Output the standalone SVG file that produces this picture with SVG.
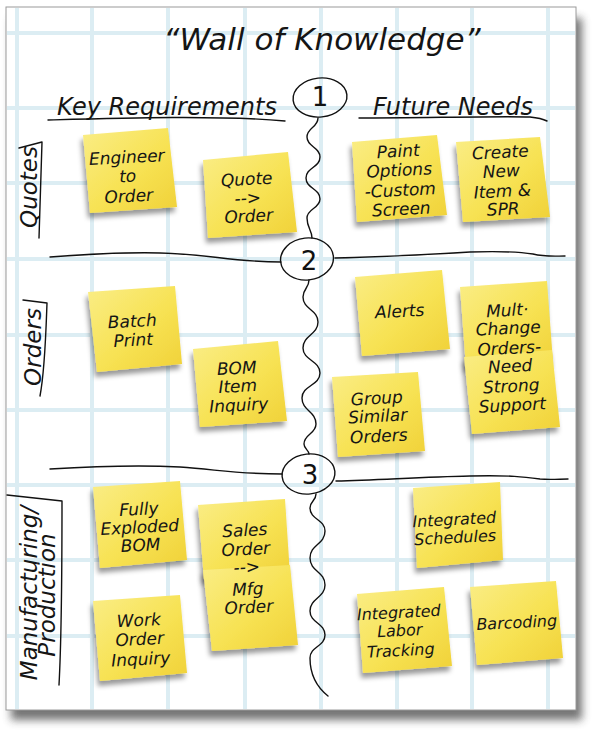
<svg xmlns="http://www.w3.org/2000/svg" width="600" height="732" viewBox="0 0 600 732">
<defs>
<style>
.t{font-family:"DejaVu Sans","Liberation Sans",sans-serif;font-style:italic;fill:#151515}
.n text{font-size:17px;text-anchor:middle}
.n text.s{font-size:16px}
.ink{fill:none;stroke:#111;stroke-width:1.4;stroke-linecap:round;stroke-linejoin:round}
.grid line{stroke:#dcedf3;stroke-width:4}
.note{fill:url(#yg);filter:url(#ns)}
.dig{font-family:"DejaVu Sans","Liberation Sans",sans-serif;font-size:26px;text-anchor:middle;fill:#111}
.hd{font-size:24px;text-anchor:middle}
.side{font-size:23px;text-anchor:middle}
</style>
<linearGradient id="yg" x1="0" y1="0" x2="1" y2="1">
<stop offset="0" stop-color="#faed86"/>
<stop offset="0.55" stop-color="#f7e253"/>
<stop offset="1" stop-color="#f0d138"/>
</linearGradient>
<filter id="ns" x="-20%" y="-20%" width="140%" height="150%">
<feDropShadow dx="-2" dy="5" stdDeviation="2.5" flood-color="#000" flood-opacity="0.4"/>
</filter>
<filter id="bs" x="-5%" y="-5%" width="110%" height="110%">
<feGaussianBlur stdDeviation="4"/>
</filter>
</defs>
<rect width="600" height="732" fill="#fff"/>
<g id="board">
<rect x="11" y="18" width="571" height="702" fill="#3a3a3a" opacity="0.7" filter="url(#bs)"/>
<rect x="6" y="7" width="570" height="703" fill="#fff" stroke="#9a9a9a" stroke-width="1"/>
<g class="grid">
<line x1="17" y1="8" x2="17" y2="709"/><line x1="92" y1="8" x2="92" y2="709"/><line x1="168" y1="8" x2="168" y2="709"/><line x1="245" y1="8" x2="245" y2="709"/><line x1="321" y1="8" x2="321" y2="709"/><line x1="397" y1="8" x2="397" y2="709"/><line x1="472" y1="8" x2="472" y2="709"/><line x1="548" y1="8" x2="548" y2="709"/>
<line x1="7" y1="33" x2="575" y2="33"/><line x1="7" y1="108" x2="575" y2="108"/><line x1="7" y1="183" x2="575" y2="183"/><line x1="7" y1="259" x2="575" y2="259"/><line x1="7" y1="335" x2="575" y2="335"/><line x1="7" y1="410" x2="575" y2="410"/><line x1="7" y1="485" x2="575" y2="485"/><line x1="7" y1="560" x2="575" y2="560"/><line x1="7" y1="636" x2="575" y2="636"/>
</g>
</g>
<g id="title"><text class="t" x="322" y="50" font-size="31" text-anchor="middle">“Wall of Knowledge”</text></g>
<g id="h-key"><text class="t hd" x="167" y="115">Key Requirements</text><path class="ink" d="M48,120 C120,118 220,115 285,121"/></g>
<g id="h-future"><text class="t hd" x="453" y="115">Future Needs</text><path class="ink" d="M359,118 C420,118 500,116 530,117 C540,118 545,120 547,121"/></g>
<g id="l-quotes"><text class="t side" transform="translate(37 187) rotate(-90)">Quotes</text><path class="ink" d="M19,148 L42,142 C41,180 40,210 39,238"/></g>
<g id="l-orders"><text class="t side" transform="translate(41 347) rotate(-90)">Orders</text><path class="ink" d="M23,300 L47,303 C46,330 45,370 40,396"/></g>
<g id="l-mfg"><text class="t side" transform="translate(37 593) rotate(-90)">Manufacturing/</text><text class="t side" font-size="22" transform="translate(55 595) rotate(-90)">Production</text><path class="ink" d="M7,495 L62,501 C62,560 62,630 59,685"/></g>
<g id="connectors">
<path class="ink" d="M318,118 C318,127.5 307,127.5 307,137 C307,147 320,147 320,157 C320,167.5 306,167.5 306,178 C306,188.5 320,188.5 320,199 C320,208.5 307,208.5 307,218 C307,228 312,230 312,238"/>
<path class="ink" d="M309,280 C309,288.5 303,288.5 303,297 C303,309.5 318,309.5 318,322 C318,335 303,335 303,348 C303,360.5 320,360.5 320,373 C320,385.5 302,385.5 302,398 C302,411 316,411 316,424 C316,434 304,434 304,444 C304,449 309,450 309,454"/>
<path class="ink" d="M316,494 C316,501 310,501 310,508 C310,519.5 325,519.5 325,531 C325,544.5 310,544.5 310,558 C310,571.5 325,571.5 325,585 C325,598 310,598 310,611 C310,623 325,623 325,635 C325,646.5 310,646.5 310,658 C310,675 318,688 328,696"/>
<path class="ink" d="M50,257 C90,254 120,252 160,253 C210,254 230,262 281,262"/>
<path class="ink" d="M335,258 C380,257 420,255 470,252 C500,251 520,252 533,254 C545,257 555,256 565,256"/>
<path class="ink" d="M50,469 C100,466 140,465 180,467 C220,470 240,474 282,474"/>
<path class="ink" d="M336,481 C380,480 420,477 470,476 C510,475 525,477 540,479 C550,480 560,479 568,479"/>
</g>
<g id="c1"><ellipse class="ink" cx="320" cy="97.5" rx="27" ry="19.5" transform="rotate(-6 320 97.5)"/><text class="dig" x="320" y="106">1</text></g>
<g id="c2"><ellipse class="ink" cx="307" cy="259" rx="26.5" ry="21" transform="rotate(-6 307 259)"/><text class="dig" x="309" y="270">2</text></g>
<g id="c3"><ellipse class="ink" cx="308.5" cy="474" rx="26.5" ry="20" transform="rotate(-6 308.5 474)"/><text class="dig" x="310" y="484">3</text></g>
<g id="n-engineer" class="n"><polygon class="note" points="83,135 168,128 177,207 90,213"/><text class="t" transform="rotate(-3 128 182)"><tspan x="128" y="163">Engineer</tspan><tspan x="128" y="182">to</tspan><tspan x="128" y="202">Order</tspan></text></g>
<g id="n-quote" class="n"><polygon class="note" points="203,160 288,152 297,232 208,238"/><text class="t" transform="rotate(-3 248 204)"><tspan x="248" y="185">Quote</tspan><tspan x="248" y="204">--&gt;</tspan><tspan x="248" y="222">Order</tspan></text></g>
<g id="n-paint" class="n"><polygon class="note" points="352,142 437,135 447,215 357,222"/><text class="t" transform="rotate(-3 400 186)"><tspan x="400" y="157">Paint</tspan><tspan x="400" y="176">Options</tspan><tspan x="400" y="196">-Custom</tspan><tspan x="400" y="215">Screen</tspan></text></g>
<g id="n-create" class="n"><polygon class="note" points="456,142 540,137 550,217 463,222"/><text class="t" transform="rotate(-3 502 186)"><tspan x="502" y="158">Create</tspan><tspan x="502" y="177">New</tspan><tspan x="502" y="197">Item &amp;</tspan><tspan x="502" y="215">SPR</tspan></text></g>
<g id="n-batch" class="n"><polygon class="note" points="88,292 175,286 182,364 97,372"/><text class="t" transform="rotate(-3 133 336)"><tspan x="133" y="327">Batch</tspan><tspan x="133" y="346">Print</tspan></text></g>
<g id="n-bom" class="n"><polygon class="note" points="193,349 278,341 287,421 200,427"/><text class="t" transform="rotate(-3 238 392)"><tspan x="238" y="374">BOM</tspan><tspan x="238" y="392">Item</tspan><tspan x="238" y="411">Inquiry</tspan></text></g>
<g id="n-alerts" class="n"><polygon class="note" points="355,277 442,270 450,349 362,356"/><text class="t" transform="rotate(-3 400 317)"><tspan x="400" y="317">Alerts</tspan></text></g>
<g id="n-mult" class="n"><polygon class="note" points="460,287 547,281 553,362 466,368"/><polygon class="note" points="464,357 552,350 560,427 472,434"/><text class="t" transform="rotate(-3 510 363)"><tspan x="510" y="316">Mult·</tspan><tspan x="510" y="334">Change</tspan><tspan x="510" y="354">Orders-</tspan><tspan x="510" y="372">Need</tspan><tspan x="510" y="392">Strong</tspan><tspan x="510" y="411">Support</tspan></text></g>
<g id="n-group" class="n"><polygon class="note" points="332,377 418,372 425,451 338,457"/><text class="t" transform="rotate(-3 378 422)"><tspan x="378" y="404">Group</tspan><tspan x="378" y="422">Similar</tspan><tspan x="378" y="442">Orders</tspan></text></g>
<g id="n-fully" class="n"><polygon class="note" points="93,487 180,481 187,560 100,568"/><text class="t" transform="rotate(-3 140 533)"><tspan x="140" y="515">Fully</tspan><tspan x="140" y="533">Exploded</tspan><tspan x="140" y="551">BOM</tspan></text></g>
<g id="n-sales" class="n"><polygon class="note" points="198,505 285,499 290,575 204,580"/><polygon class="note" points="203,570 290,565 298,645 212,651"/><text class="t" transform="rotate(-3 247 573)"><tspan x="247" y="536">Sales</tspan><tspan x="247" y="555">Order</tspan><tspan x="247" y="573">--&gt;</tspan><tspan x="247" y="595">Mfg</tspan><tspan x="247" y="613">Order</tspan></text></g>
<g id="n-work" class="n"><polygon class="note" points="93,601 180,595 187,673 100,681"/><text class="t" transform="rotate(-3 140 645)"><tspan x="140" y="626">Work</tspan><tspan x="140" y="645">Order</tspan><tspan x="140" y="665">Inquiry</tspan></text></g>
<g id="n-sched" class="n"><polygon class="note" points="413,488 500,482 503,560 417,568"/><text class="t s" transform="rotate(-3 455 534)"><tspan x="455" y="525">Integrated</tspan><tspan x="455" y="543">Schedules</tspan></text></g>
<g id="n-labor" class="n"><polygon class="note" points="357,594 444,587 452,666 363,673"/><text class="t s" transform="rotate(-3 400 636)"><tspan x="400" y="618">Integrated</tspan><tspan x="400" y="636">Labor</tspan><tspan x="400" y="656">Tracking</tspan></text></g>
<g id="n-barcode" class="n"><polygon class="note" points="470,587 556,581 563,658 477,665"/><text class="t s" transform="rotate(-3 517 628)"><tspan x="517" y="628">Barcoding</tspan></text></g>
</svg>
